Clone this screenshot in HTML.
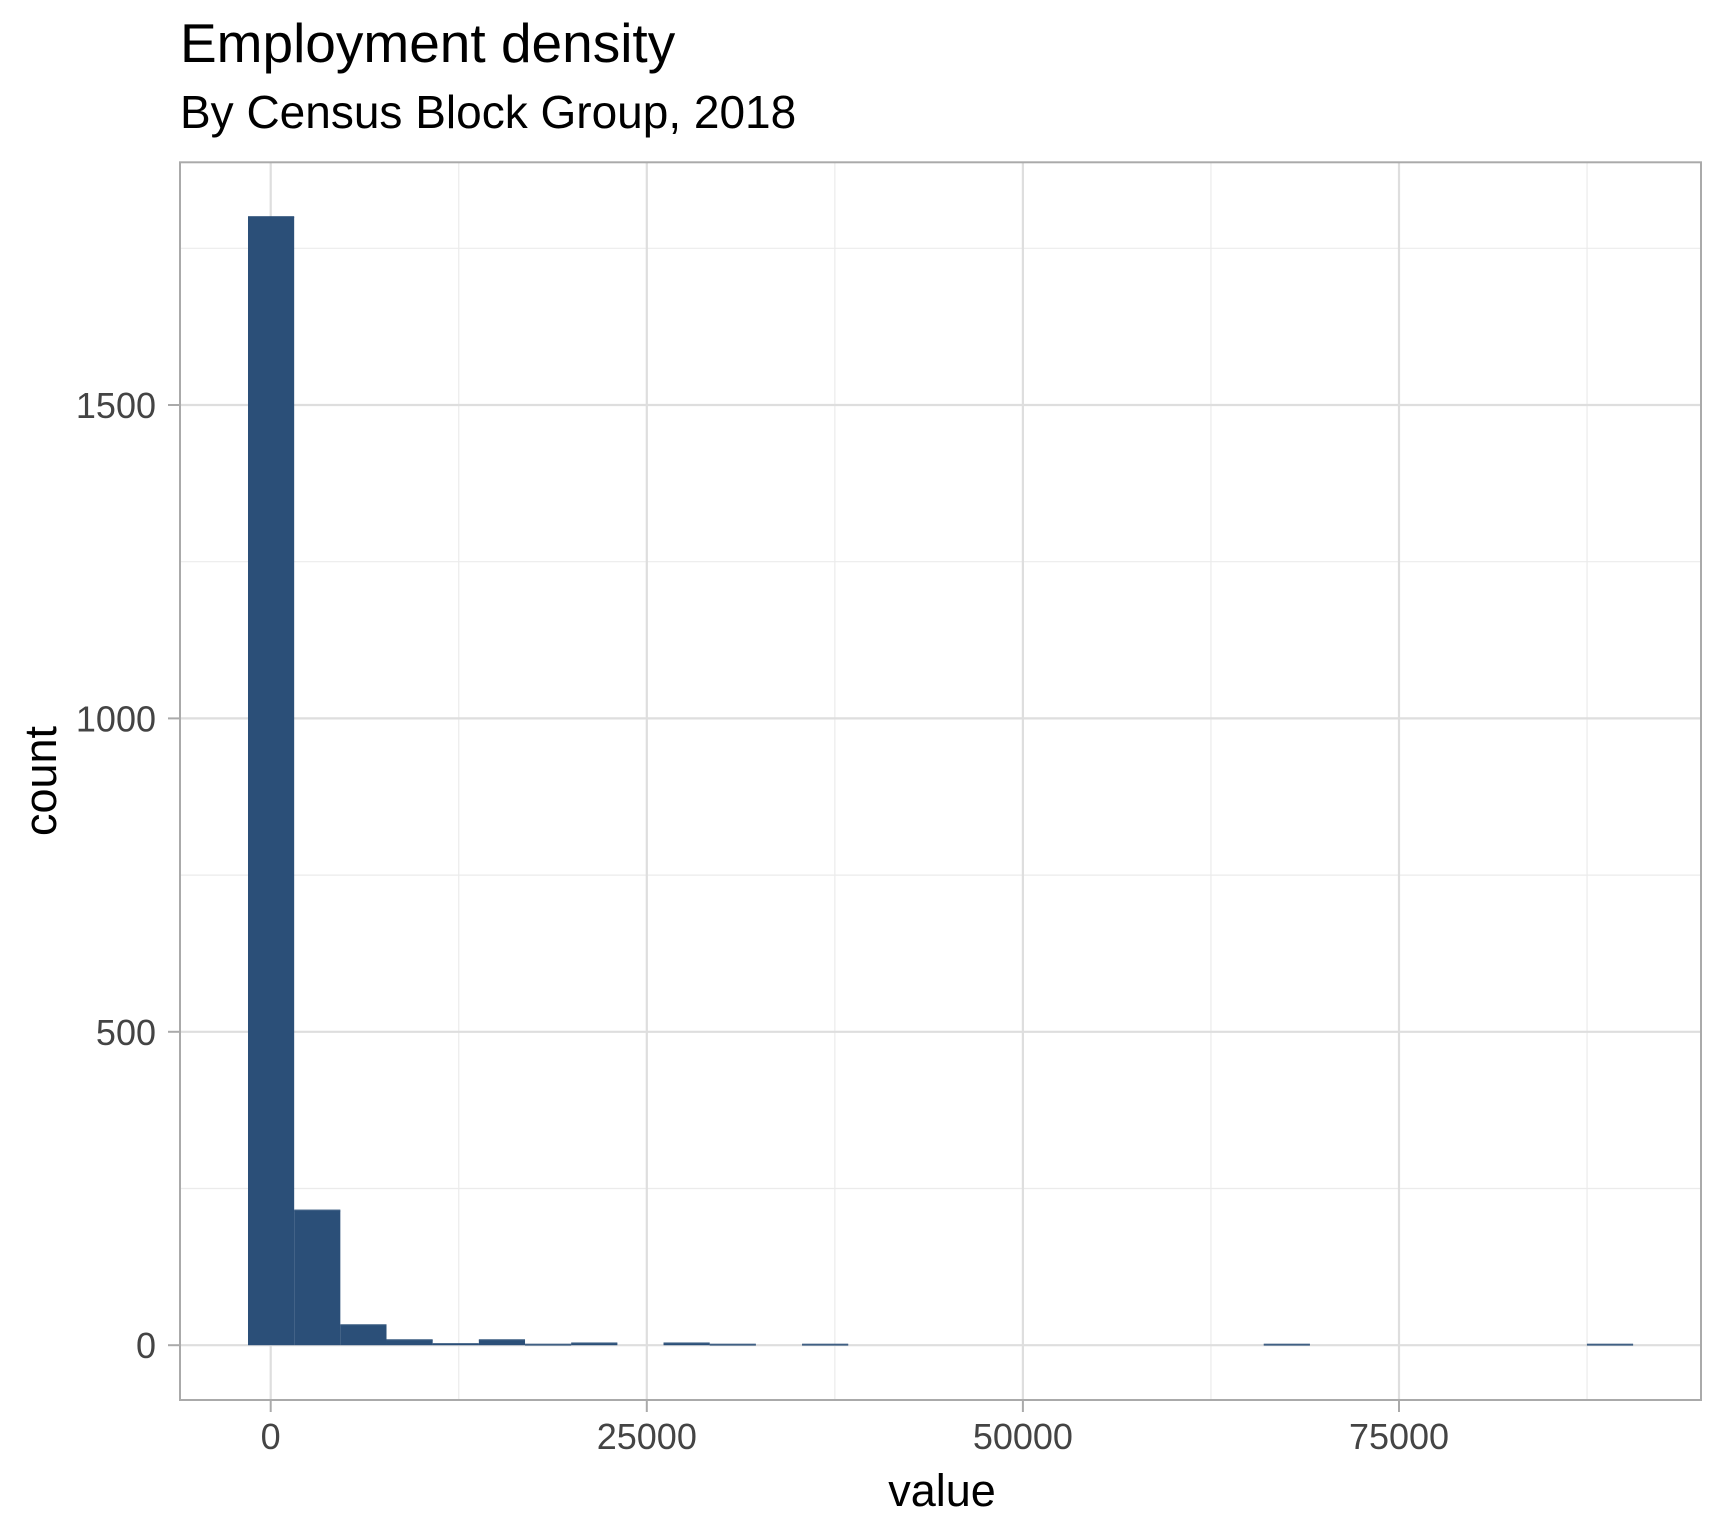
<!DOCTYPE html>
<html><head><meta charset="utf-8"><style>
html,body{margin:0;padding:0;background:#fff;}
svg text{font-family:"Liberation Sans",Arial,sans-serif;}
</style></head><body>
<svg id="chart" width="1724" height="1533" viewBox="0 0 1724 1533" xmlns="http://www.w3.org/2000/svg">
<rect width="1724" height="1533" fill="#fff"/>
<text x="180" y="62" font-size="55" fill="#000">Employment density</text>
<text x="180" y="128" font-size="46" fill="#000">By Census Block Group, 2018</text>
<g id="grid"></g>
<g id="bars"></g>
<g id="axes"></g>
<rect x="180" y="162.3" width="1521" height="1237.7" fill="none" stroke="#aaaaaa" stroke-width="2"/>
<text x="942" y="1506" font-size="45" text-anchor="middle" fill="#000">value</text>
<text transform="translate(56,781) rotate(-90)" font-size="45" text-anchor="middle" fill="#000">count</text>
</svg>
<script>
const binStart = -1509;
const binWidth = 3069;
const counts = [1800,215,32,8,2,8,1,3,0,3,1,0,1,0,0,0,0,0,0,0,0,0,1,0,0,0,0,0,0,1];
const xTicks = [0,25000,50000,75000];
const xTickLabels = ["0","25000","50000","75000"];
const yTicks = [0,500,1000,1500];
const yTickLabels = ["0","500","1000","1500"];
const xMinor = [12500,37500,62500,87500];
const yMinor = [250,750,1250,1750];

const L=180,R=1701,T=162.3,B=1400;
const x0px=270.7, xPer=376.1/25000;
const y0px=1345.2, yPer=313.4/500;
function X(v){return x0px+v*xPer;}
function Y(v){return y0px-v*yPer;}
const NS="http://www.w3.org/2000/svg";
function mk(tag,attrs,parent){const e=document.createElementNS(NS,tag);for(const k in attrs)e.setAttribute(k,attrs[k]);parent.appendChild(e);return e;}
const grid=document.getElementById('grid'),bars=document.getElementById('bars'),axes=document.getElementById('axes');
xMinor.forEach(v=>{const l=mk('line',{x1:X(v),x2:X(v),y1:T,y2:B,stroke:'#ebebeb','stroke-width':1.2},grid);

});
yMinor.forEach(v=>{const l=mk('line',{x1:L,x2:R,y1:Y(v),y2:Y(v),stroke:'#ebebeb','stroke-width':1.2},grid);

});
xTicks.forEach((v,i)=>{const l=mk('line',{x1:X(v),x2:X(v),y1:T,y2:B,stroke:'#dedede','stroke-width':2.2},grid);


const t=mk('line',{x1:X(v),x2:X(v),y1:B,y2:B+12,stroke:'#aaaaaa','stroke-width':2},axes);


const tx=mk('text',{x:X(v),y:1449,'font-size':36,'text-anchor':'middle',fill:'#444'},axes);tx.textContent=xTickLabels[i];

});
yTicks.forEach((v,i)=>{const l=mk('line',{x1:L,x2:R,y1:Y(v),y2:Y(v),stroke:'#dedede','stroke-width':2.2},grid);


const t=mk('line',{x1:L-12,x2:L,y1:Y(v),y2:Y(v),stroke:'#aaaaaa','stroke-width':2},axes);


const tx=mk('text',{x:156,y:Y(v)+13,'font-size':36,'text-anchor':'end',fill:'#444'},axes);tx.textContent=yTickLabels[i];

});
counts.forEach((c,i)=>{const a=binStart+i*binWidth,b=a+binWidth;
const h=Math.max(Y(0)-Y(c),0);
const r=mk('rect',{x:X(a),y:Y(c),width:X(b)-X(a),height:h,fill:'#2b4f78'},bars);


if(c>0){const ln=mk('line',{x1:X(a),x2:X(b),y1:Y(c),y2:Y(c),stroke:'#2b4f78','stroke-width':2,opacity:0.8},bars);

}});
</script>
</body></html>
